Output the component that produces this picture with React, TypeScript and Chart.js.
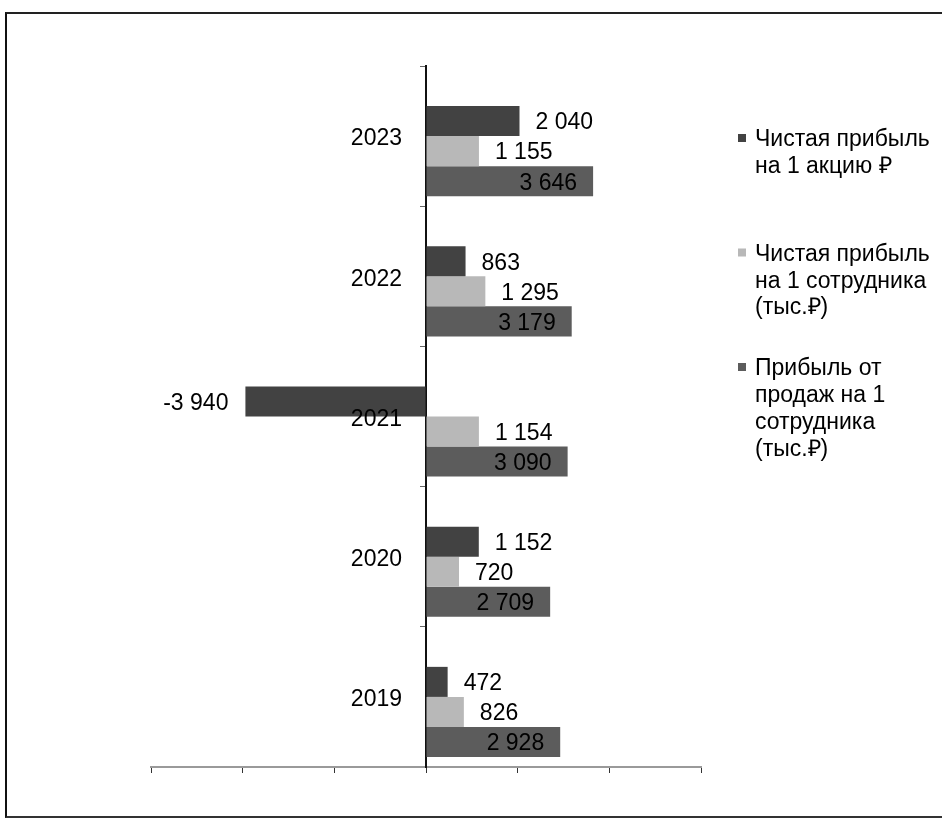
import React, { useEffect, useRef } from 'react';
import { Chart, registerables } from 'chart.js';

Chart.register(...registerables);

// ---- data ----
const categories = ['2023', '2022', '2021', '2020', '2019'];
const perShare = [2040, 863, -3940, 1152, 472];
const netPerEmployee = [1155, 1295, 1154, 720, 826];
const salesPerEmployee = [3646, 3179, 3090, 2709, 2928];
const emptySlot = [null, null, null, null, null];
const seriesNames: string[][] = [
  ['Чистая прибыль', 'на 1 акцию ₽'],
  ['Чистая прибыль', 'на 1 сотрудника', '(тыс.₽)'],
  ['Прибыль от', 'продаж на 1', 'сотрудника', '(тыс.₽)'],
];
const xMin = -6000;
const xMax = 6000;
const xStep = 2000;

// ---- styles ----
const FONT = "'Liberation Sans', Arial, sans-serif";
const FS = 23;
const colors = ['#424242', '#b8b8b8', '#5c5c5c'];
const labelPlacement = ['outside', 'outside', 'inside'];

function fmt(v: number): string {
  const s = Math.abs(Math.round(v)).toString().replace(/\B(?=(\d{3})+(?!\d))/g, ' ');
  return (v < 0 ? '-' : '') + s;
}

const valueLabels = {
  id: 'valueLabels',
  afterDatasetsDraw(chart: any) {
    const ctx = chart.ctx;
    ctx.save();
    ctx.font = `${FS}px ${FONT}`;
    ctx.fillStyle = '#000';
    ctx.textBaseline = 'middle';
    for (let d = 1; d < chart.data.datasets.length; d++) {
      const meta = chart.getDatasetMeta(d);
      const ds = chart.data.datasets[d];
      const mode = labelPlacement[d - 1];
      meta.data.forEach((bar: any, i: number) => {
        const v = ds.data[i];
        if (v == null) return;
        const neg = v < 0;
        const txt = fmt(v);
        if (mode === 'outside') {
          ctx.textAlign = neg ? 'right' : 'left';
          ctx.fillText(txt, bar.x + (neg ? -17 : 16), bar.y + 2);
        } else {
          ctx.textAlign = neg ? 'left' : 'right';
          ctx.fillText(txt, bar.x + (neg ? 16 : -16), bar.y + 2);
        }
      });
    }
    // category labels, left of the zero axis, over the bars
    const yScale = chart.scales.y;
    const zeroX = chart.scales.x.getPixelForValue(0);
    ctx.textAlign = 'right';
    chart.data.labels.forEach((lab: string, i: number) => {
      ctx.fillText(lab, zeroX - 24, yScale.getPixelForTick(i) + 3);
    });
    ctx.restore();
  },
};

const sideLegend = {
  id: 'sideLegend',
  afterDraw(chart: any) {
    const ctx = chart.ctx;
    const area = chart.chartArea;
    const boxX = area.right + 37;
    const textX = boxX + 17;
    const firstY = 140;
    const itemGap = 114.5;
    const lineH = 26.8;
    ctx.save();
    ctx.font = `${FS}px ${FONT}`;
    ctx.textBaseline = 'middle';
    ctx.textAlign = 'left';
    seriesNames.forEach((lines, k) => {
      const y0 = firstY + k * itemGap;
      ctx.fillStyle = colors[k];
      ctx.fillRect(boxX, y0 - 6, 8, 8);
      ctx.fillStyle = '#000';
      lines.forEach((ln, j) => ctx.fillText(ln, textX, y0 + j * lineH));
    });
    ctx.restore();
  },
};

export default function App() {
  const ref = useRef<HTMLCanvasElement | null>(null);

  useEffect(() => {
    if (!ref.current) return;
    const common = {
      categoryPercentage: 0.857,
      barPercentage: 1,
      borderWidth: 0,
    };
    const chart = new Chart(ref.current, {
      type: 'bar',
      data: {
        labels: categories,
        datasets: [
          { label: 'slot', data: emptySlot, backgroundColor: 'transparent', ...common },
          { label: seriesNames[0].join(' '), data: perShare, backgroundColor: colors[0], ...common },
          { label: seriesNames[1].join(' '), data: netPerEmployee, backgroundColor: colors[1], ...common },
          { label: seriesNames[2].join(' '), data: salesPerEmployee, backgroundColor: colors[2], ...common },
        ],
      },
      options: {
        indexAxis: 'y',
        animation: false,
        responsive: false,
        maintainAspectRatio: false,
        devicePixelRatio: 1,
        layout: { padding: { left: 151, right: 241, top: 66, bottom: 48 } },
        plugins: {
          legend: { display: false },
          tooltip: { enabled: false },
        },
        scales: {
          x: {
            type: 'linear',
            min: xMin,
            max: xMax,
            ticks: { stepSize: xStep, display: false },
            grid: { drawOnChartArea: false, drawTicks: true, tickLength: 6, color: '#333' },
            border: { display: true, color: '#9a9a9a', width: 2, dash: [2, 1] },
          },
          y: {
            type: 'category',
            position: { x: 0 } as any,
            ticks: { display: false },
            grid: { drawOnChartArea: false, drawTicks: true, tickLength: 5, color: '#666', offset: true },
            border: { display: true, color: '#111', width: 2 },
          },
        },
      },
      plugins: [valueLabels, sideLegend],
    } as any);
    return () => chart.destroy();
  }, []);

  return (
    <div style={{ position: 'fixed', left: 0, top: 0, width: 942, height: 821, background: '#fff', overflow: 'hidden' }}>
      <div
        style={{
          position: 'absolute',
          left: 5,
          top: 12,
          width: 960,
          height: 802,
          borderLeft: '2px solid #111',
          borderTop: '2px solid #222',
          borderBottom: '2px solid #333',
        }}
      />
      <canvas ref={ref} width={942} height={821} style={{ position: 'absolute', left: 0, top: 0, width: 942, height: 821 }} />
    </div>
  );
}
